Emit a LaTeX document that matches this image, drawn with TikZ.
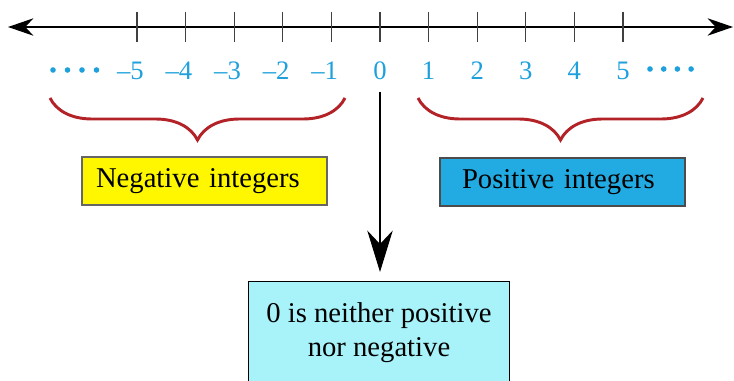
\documentclass[tikz,border=0pt]{standalone}
\usepackage{fontspec}
\setmainfont{Liberation Serif}
\usetikzlibrary{arrows.meta,decorations.pathreplacing}
\definecolor{numblue}{RGB}{30,160,220}
\definecolor{bracered}{RGB}{178,34,38}
\definecolor{negfill}{RGB}{255,247,0}
\definecolor{posfill}{RGB}{34,171,226}
\definecolor{zerofill}{RGB}{168,242,250}

\begin{document}
\begin{tikzpicture}[
  x=0.75pt, y=-0.75pt,
  axis/.style={{Stealth[length=19pt,width=13pt,inset=6pt]}-{Stealth[length=19pt,width=13pt,inset=6pt]}, line width=1.5pt},
  tick/.style={line width=0.8pt, black!75},
  num/.style={text=numblue, font=\fontsize{20pt}{24pt}\selectfont, inner sep=0pt},
  brc/.style={decorate, decoration={brace, amplitude=31.5pt}, line width=2.2pt, bracered},
  box/.style={rectangle, draw=black!60, line width=0.9pt, minimum width=183.75pt,
    minimum height=36pt, align=left, font=\fontsize{21.5pt}{25.5pt}\selectfont},
  arr/.style={-{Stealth[length=31pt,width=19pt,inset=10pt]}, line width=2.2pt},
]
\useasboundingbox (0,0) rectangle (734,381);

\coordinate (lend) at (8,27);
\coordinate (rend) at (733,27);
\draw[axis] (lend) -- (rend);

\foreach \i in {-5,...,5}
  \draw[tick] ({380+48.6*\i},12) -- ({380+48.6*\i},42);

\node[num] (z) at (380,71) {0};
\foreach \i in {1,...,5} {
  \node[num] (p\i) at ({380+48.6*\i},71) {\i};
  \node[num] (m\i) at ({380-48.6*\i},71) {\llap{\textendash}\i};
}
\foreach \k in {0,...,3} {
  \fill[numblue] ({53+14.5*\k},70) circle[radius=2.1pt];
  \fill[numblue] ({650+13.7*\k},69) circle[radius=2.1pt];
}

\draw[brc] (345,98) -- (50,98);
\draw[brc] (703,98) -- (418,98);

\node[box, fill=negfill, text width=162.75pt, inner xsep=10.5pt] (neg) at (204.5,181) {Negative integers};
\node[box, fill=posfill, text width=150.75pt, inner xsep=16.5pt, draw=black!70] (pos) at (562.5,182) {Positive integers};
\node[rectangle, draw=black, line width=0.8pt, fill=zerofill, anchor=north, minimum width=195.75pt,
  inner ysep=16pt, align=center, font=\fontsize{21.5pt}{25.5pt}\selectfont] (zbox) at (379,281)
  {0 is neither positive\\nor negative};

\coordinate (zs) at (380,92);
\draw[arr, shorten >=6.75pt] (zs) -- (zs |- zbox.north);
\end{tikzpicture}
\end{document}
